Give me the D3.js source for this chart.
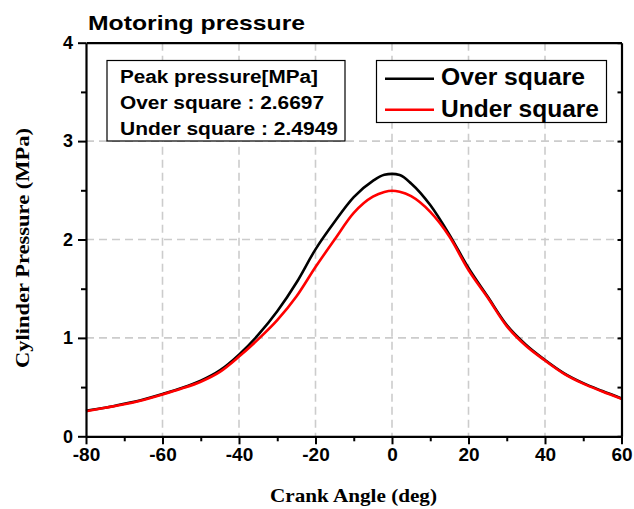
<!DOCTYPE html>
<html><head><meta charset="utf-8">
<script src="https://cdn.jsdelivr.net/npm/d3@7"></script>
<style>body{margin:0;background:#fff}svg{display:block}</style>
</head><body>
<svg id="c" width="634" height="509"></svg>
<script>
const angles = [-80,-75,-70,-65,-60,-55,-50,-45,-40,-35,-30,-25,-20,-15,-10,-5,-2,0,2,5,10,15,20,25,30,35,40,45,50,55,60];
const overSquare = [0.26,0.29,0.33,0.375,0.43,0.49,0.565,0.67,0.83,1.03,1.27,1.56,1.90,2.18,2.43,2.595,2.658,2.667,2.655,2.57,2.35,2.05,1.71,1.42,1.13,0.93,0.775,0.64,0.54,0.46,0.385];
const underSquare = [0.255,0.29,0.325,0.37,0.425,0.485,0.555,0.655,0.81,0.985,1.18,1.42,1.72,2.0,2.27,2.435,2.483,2.495,2.485,2.44,2.28,2.03,1.69,1.41,1.12,0.92,0.77,0.635,0.535,0.455,0.38];
const xTicks = [-80,-60,-40,-20,0,20,40,60];
const xMinor = [-70,-50,-30,-10,10,30,50];
const yTicks = [0,1,2,3,4];
const yMinor = [0.5,1.5,2.5,3.5];
const infoLines = ["Peak pressure[MPa]","Over square : 2.6697","Under square : 2.4949"];
const infoWidths = [198,204,218];
const legendItems = [{name:"Over square", color:"#000", w:144},{name:"Under square", color:"#ff0000", w:158}];

const svg = d3.select("#c");
const L=86, R=621.5, T=42.7, B=436.3;
const x = d3.scaleLinear().domain([-80,60]).range([L,R]);
const y = d3.scaleLinear().domain([0,4]).range([B,T]);
const sans = "'Liberation Sans', Arial, sans-serif";
const serif = "'Liberation Serif', 'Times New Roman', serif";

// grid
const g = svg.append("g");
g.selectAll("line.vg").data(xTicks.slice(1,-1)).enter().append("line")
  .attr("x1",d=>x(d)).attr("x2",d=>x(d)).attr("y1",T).attr("y2",B)
  .attr("stroke","#cccccc").attr("stroke-width",1.6).attr("stroke-dasharray","8,5");
g.selectAll("line.hg").data(yTicks.slice(1,-1)).enter().append("line")
  .attr("y1",d=>y(d)).attr("y2",d=>y(d)).attr("x1",L).attr("x2",R)
  .attr("stroke","#cccccc").attr("stroke-width",1.6).attr("stroke-dasharray","8,5");

// lines
const line = d3.line().x((d,i)=>x(angles[i])).y(d=>y(d)).curve(d3.curveMonotoneX);
svg.append("path").datum(overSquare).attr("d",line).attr("fill","none").attr("stroke","#000").attr("stroke-width",2.6);
svg.append("path").datum(underSquare).attr("d",line).attr("fill","none").attr("stroke","#ff0000").attr("stroke-width",2.6);

// axes
function styleAxis(sel){ sel.selectAll(".domain").attr("stroke","#000").attr("stroke-width",2.2);
  sel.selectAll(".tick line").attr("stroke","#000").attr("stroke-width",2); }
const xAx = svg.append("g").attr("transform",`translate(0,${B})`)
  .call(d3.axisBottom(x).tickValues(xTicks).tickSize(8).tickSizeOuter(0).tickPadding(3).tickFormat(d=>String(d)));
styleAxis(xAx);
xAx.selectAll("text").attr("font-family",sans).attr("font-weight","bold").attr("font-size",19).attr("fill","#000");
const xMin = svg.append("g").attr("transform",`translate(0,${B})`)
  .call(d3.axisBottom(x).tickValues(xMinor).tickSize(5).tickSizeOuter(0).tickFormat(""));
styleAxis(xMin); xMin.select(".domain").remove();

const yAx = svg.append("g").attr("transform",`translate(${L},0)`)
  .call(d3.axisLeft(y).tickValues(yTicks).tickSize(8).tickSizeOuter(0).tickPadding(5).tickFormat(d=>String(d)));
styleAxis(yAx);
yAx.selectAll("text").attr("font-family",sans).attr("font-weight","bold").attr("font-size",18).attr("fill","#000");
const yMin = svg.append("g").attr("transform",`translate(${L},0)`)
  .call(d3.axisLeft(y).tickValues(yMinor).tickSize(5).tickSizeOuter(0).tickFormat(""));
styleAxis(yMin); yMin.select(".domain").remove();

// top and right
const xTop = svg.append("g").attr("transform",`translate(0,${T})`)
  .call(d3.axisTop(x).tickValues([]).tickSizeOuter(0));
styleAxis(xTop);
const yR = svg.append("g").attr("transform",`translate(${R},0)`)
  .call(d3.axisRight(y).tickValues(yTicks.concat(yMinor)).tickSize(-4).tickSizeOuter(0).tickFormat(""));
styleAxis(yR);

// titles
svg.append("text").attr("x",88).attr("y",30).attr("font-family",sans).attr("font-weight","bold")
  .attr("font-size",21).attr("textLength",217).attr("lengthAdjust","spacingAndGlyphs").text("Motoring pressure");
svg.append("text").attr("x",270).attr("y",502).attr("font-family",serif)
  .attr("font-weight","bold").attr("font-size",19).attr("textLength",167).attr("lengthAdjust","spacingAndGlyphs")
  .text("Crank Angle (deg)");
svg.append("text").attr("transform",`translate(29,368) rotate(-90)`)
  .attr("font-family",serif).attr("font-weight","bold").attr("font-size",19)
  .attr("textLength",240).attr("lengthAdjust","spacingAndGlyphs").text("Cylinder Pressure (MPa)");

// info box
svg.append("rect").attr("x",107).attr("y",60.5).attr("width",238).attr("height",80.5)
  .attr("fill","#fff").attr("stroke","#000").attr("stroke-width",1.2);
svg.selectAll("text.info").data(infoLines).enter().append("text")
  .attr("x",120).attr("y",(d,i)=>83+i*26).attr("font-family",sans).attr("font-weight","bold")
  .attr("font-size",17.5).attr("textLength",(d,i)=>infoWidths[i]).attr("lengthAdjust","spacingAndGlyphs").text(d=>d);

// legend
svg.append("rect").attr("x",376.5).attr("y",60.5).attr("width",230).attr("height",62)
  .attr("fill","#fff").attr("stroke","#000").attr("stroke-width",1.2);
const lg = svg.selectAll("g.lg").data(legendItems).enter().append("g")
  .attr("transform",(d,i)=>`translate(0,${78.7+i*31})`);
lg.append("line").attr("x1",385).attr("x2",434).attr("stroke",d=>d.color).attr("stroke-width",2.6);
lg.append("text").attr("x",441).attr("y",(d,i)=>6.5+i*0.5).attr("font-family",sans).attr("font-weight","bold")
  .attr("font-size",23.5).attr("textLength",d=>d.w).attr("lengthAdjust","spacingAndGlyphs").text(d=>d.name);
</script>
</body></html>
